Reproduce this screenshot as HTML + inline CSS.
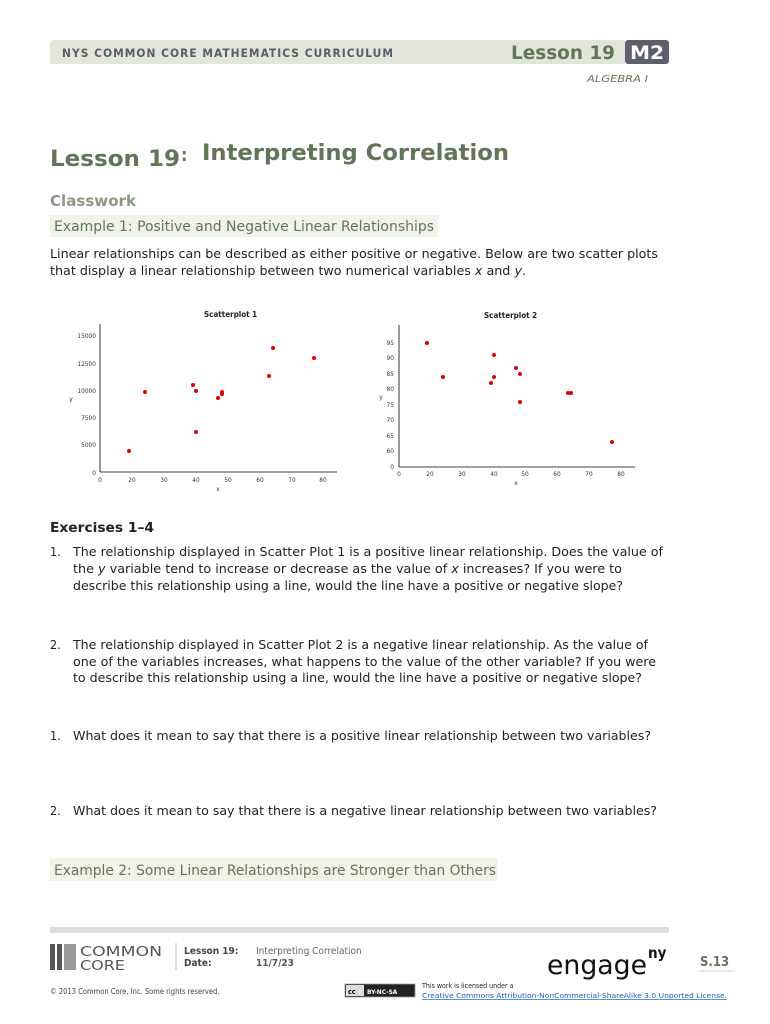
<!DOCTYPE html>
<html><head><meta charset="utf-8"><style>
html,body{margin:0;padding:0;background:#fff}
svg{display:block}
text{font-family:"DejaVu Sans Condensed","DejaVu Sans","Liberation Sans",sans-serif}
</style></head><body>
<svg width="770" height="1024" viewBox="0 0 770 1024" xmlns="http://www.w3.org/2000/svg">
<path d="M54,40 H625 V64 H50 V44 Q50,40 54,40 Z" fill="#e2e6da"/>
<rect x="625" y="40" width="44" height="24" rx="3" fill="#5d5f6b"/>
<text x="62" y="57" font-size="11.5" font-weight="bold" fill="#5b5d68" letter-spacing="1" textLength="332" lengthAdjust="spacingAndGlyphs">NYS COMMON CORE MATHEMATICS CURRICULUM</text>
<text x="511" y="59" font-size="19" font-weight="bold" fill="#617656" textLength="104" lengthAdjust="spacingAndGlyphs">Lesson 19</text>
<text x="630" y="59" font-size="19" font-weight="bold" fill="#fff" textLength="34" lengthAdjust="spacingAndGlyphs">M2</text>
<text x="587" y="82" font-size="10" font-style="italic" fill="#617656" textLength="61" lengthAdjust="spacingAndGlyphs">ALGEBRA I</text>
<text x="50" y="166" font-size="22" font-weight="bold" fill="#617656" textLength="130" lengthAdjust="spacingAndGlyphs">Lesson 19</text>
<text x="181" y="161" font-size="18" font-weight="bold" fill="#617656">:</text>
<text x="202" y="160" font-size="22" font-weight="bold" fill="#617656" textLength="307" lengthAdjust="spacingAndGlyphs">Interpreting Correlation</text>
<text x="50" y="206" font-size="15" font-weight="bold" fill="#8a9a80" textLength="86" lengthAdjust="spacingAndGlyphs">Classwork</text>
<rect x="50" y="215" width="388" height="22" fill="#f0f3ea"/>
<text x="54" y="231" font-size="14" fill="#617656" textLength="380" lengthAdjust="spacingAndGlyphs">Example 1:  Positive and Negative Linear Relationships</text>
<text x="50" y="258" font-size="12.5" fill="#222" textLength="608" lengthAdjust="spacingAndGlyphs">Linear relationships can be described as either positive or negative.  Below are two scatter plots</text>
<text x="50" y="275" font-size="12.5" fill="#222" textLength="476" lengthAdjust="spacingAndGlyphs">that display a linear relationship between two numerical variables <tspan font-style="italic">x</tspan> and <tspan font-style="italic">y</tspan>.</text>

<g font-size="6.5" fill="#333">
<text x="204" y="317" font-size="8" font-weight="bold" fill="#222">Scatterplot 1</text>
<line x1="100" y1="324" x2="100" y2="472" stroke="#000" stroke-width="0.8"/>
<line x1="100" y1="472" x2="337" y2="472" stroke="#000" stroke-width="0.8"/>
<g text-anchor="end"><text x="96" y="338">15000</text><text x="96" y="366">12500</text><text x="96" y="393">10000</text><text x="96" y="420">7500</text><text x="96" y="447">5000</text><text x="96" y="475">0</text></g>
<g text-anchor="middle"><text x="100" y="482">0</text><text x="132" y="482">20</text><text x="164" y="482">30</text><text x="196" y="482">40</text><text x="228" y="482">50</text><text x="260" y="482">60</text><text x="292" y="482">70</text><text x="323" y="482">80</text>
<text x="218" y="491">x</text><text x="71" y="401">y</text></g>
<g fill="#e00000"><circle cx="129" cy="451" r="2"/><circle cx="145" cy="392" r="2"/><circle cx="193" cy="385" r="2"/><circle cx="196" cy="391" r="2"/><circle cx="196" cy="432" r="2"/><circle cx="218" cy="398" r="2"/><circle cx="222" cy="394" r="2"/><circle cx="222" cy="392" r="2"/><circle cx="269" cy="376" r="2"/><circle cx="273" cy="348" r="2"/><circle cx="314" cy="358" r="2"/></g>
</g>
<g font-size="6.5" fill="#333">
<text x="484" y="318" font-size="8" font-weight="bold" fill="#222">Scatterplot 2</text>
<line x1="399" y1="325" x2="399" y2="467" stroke="#000" stroke-width="0.8"/>
<line x1="399" y1="467" x2="635" y2="467" stroke="#000" stroke-width="0.8"/>
<g text-anchor="end"><text x="394" y="345">95</text><text x="394" y="360">90</text><text x="394" y="376">85</text><text x="394" y="391">80</text><text x="394" y="407">75</text><text x="394" y="422">70</text><text x="394" y="438">65</text><text x="394" y="453">60</text><text x="394" y="469">0</text></g>
<g text-anchor="middle"><text x="399" y="476">0</text><text x="430" y="476">20</text><text x="462" y="476">30</text><text x="494" y="476">40</text><text x="525" y="476">50</text><text x="557" y="476">60</text><text x="589" y="476">70</text><text x="621" y="476">80</text>
<text x="516" y="485">x</text><text x="381" y="399">y</text></g>
<g fill="#e00000"><circle cx="427" cy="343" r="2"/><circle cx="443" cy="377" r="2"/><circle cx="491" cy="383" r="2"/><circle cx="494" cy="355" r="2"/><circle cx="494" cy="377" r="2"/><circle cx="516" cy="368" r="2"/><circle cx="520" cy="374" r="2"/><circle cx="520" cy="402" r="2"/><circle cx="568" cy="393" r="2"/><circle cx="571" cy="393" r="2"/><circle cx="612" cy="442" r="2"/></g>
</g>

<g font-size="12.5" fill="#222">
<text x="50" y="532" font-size="13" font-weight="bold" textLength="104" lengthAdjust="spacingAndGlyphs">Exercises 1–4</text>
<text x="50" y="556">1.</text><text x="73" y="556" textLength="590" lengthAdjust="spacingAndGlyphs">The relationship displayed in Scatter Plot 1 is a positive linear relationship.  Does the value of</text>
<text x="73" y="573" textLength="549" lengthAdjust="spacingAndGlyphs">the <tspan font-style="italic">y</tspan> variable tend to increase or decrease as the value of <tspan font-style="italic">x</tspan> increases?  If you were to</text>
<text x="73" y="590" textLength="550" lengthAdjust="spacingAndGlyphs">describe this relationship using a line, would the line have a positive or negative slope?</text>
<text x="50" y="649">2.</text><text x="73" y="649" textLength="575" lengthAdjust="spacingAndGlyphs">The relationship displayed in Scatter Plot 2 is a negative linear relationship. As the value of</text>
<text x="73" y="666" textLength="583" lengthAdjust="spacingAndGlyphs">one of the variables increases, what happens to the value of the other variable?  If you were</text>
<text x="73" y="682" textLength="569" lengthAdjust="spacingAndGlyphs">to describe this relationship using a line, would the line have a positive or negative slope?</text>
<text x="50" y="740">1.</text><text x="73" y="740" textLength="578" lengthAdjust="spacingAndGlyphs">What does it mean to say that there is a positive linear relationship between two variables?</text>
<text x="50" y="815">2.</text><text x="73" y="815" textLength="584" lengthAdjust="spacingAndGlyphs">What does it mean to say that there is a negative linear relationship between two variables?</text>
</g>
<rect x="50" y="858" width="448" height="23" fill="#f0f3ea"/>
<text x="54" y="875" font-size="14" fill="#617656" textLength="442" lengthAdjust="spacingAndGlyphs">Example 2: Some Linear Relationships are Stronger than Others</text>

<rect x="50" y="927" width="619" height="6" fill="#dddddd"/>
<rect x="50" y="944" width="5" height="26" fill="#555"/><rect x="57" y="944" width="5" height="26" fill="#555"/><rect x="64" y="944" width="12" height="26" fill="#999"/>
<text x="80" y="956" font-size="13" fill="#555" font-family="Liberation Serif,serif" textLength="82" lengthAdjust="spacingAndGlyphs">COMMON</text>
<text x="80" y="970" font-size="13" fill="#555" font-family="Liberation Serif,serif" textLength="45" lengthAdjust="spacingAndGlyphs">CORE</text>
<line x1="176" y1="943" x2="176" y2="970" stroke="#bbb"/>
<text x="184" y="954" font-size="10" font-weight="bold" fill="#444">Lesson 19:</text>
<text x="184" y="966" font-size="10" font-weight="bold" fill="#444">Date:</text>
<text x="256" y="954" font-size="10" fill="#666">Interpreting Correlation</text>
<text x="256" y="966" font-size="10" font-weight="bold" fill="#555">11/7/23</text>
<text x="547" y="974" font-size="27" fill="#111" font-family="Liberation Serif,serif" textLength="100" lengthAdjust="spacingAndGlyphs">engage</text>
<text x="648" y="958" font-size="15" fill="#111" font-family="Liberation Sans,sans-serif" font-weight="bold">ny</text>
<text x="700" y="966" font-size="13" font-weight="bold" fill="#617656">S.13</text>
<line x1="699" y1="971" x2="735" y2="971" stroke="#c8d4bc"/>
<text x="50" y="994" font-size="7.5" fill="#444">© 2013 Common Core, Inc. Some rights reserved.</text>
<rect x="345" y="984" width="70" height="13" fill="#222" stroke="#999" stroke-width="0.8"/>
<rect x="346" y="985" width="18" height="11" fill="#ddd"/>
<text x="348" y="994" font-size="7" font-weight="bold" fill="#000">cc</text>
<text x="367" y="994" font-size="6.5" font-weight="bold" fill="#fff">BY-NC-SA</text>
<text x="422" y="988" font-size="7" fill="#222">This work is licensed under a</text>
<text x="422" y="998" font-size="7" fill="#1d5fbf" text-decoration="underline" textLength="305" lengthAdjust="spacingAndGlyphs">Creative Commons Attribution-NonCommercial-ShareAlike 3.0 Unported License.</text>
</svg>
</body></html>
